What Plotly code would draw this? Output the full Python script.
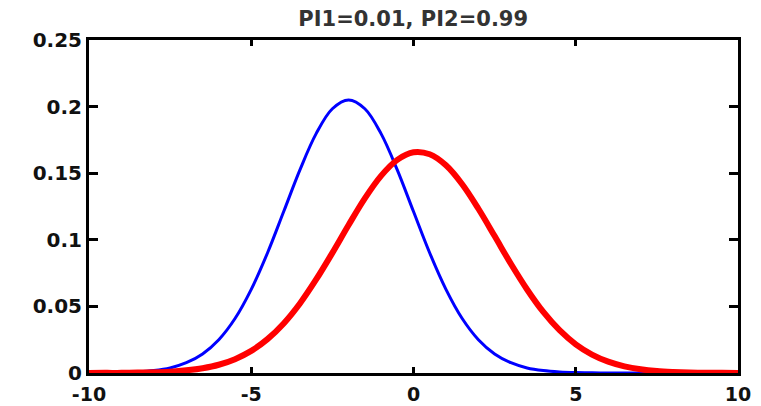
import plotly.graph_objects as go

# Sample grid shared by both densities
x_vals = [-10.0, -9.5, -9.0, -8.5, -8.0, -7.5, -7.0, -6.5, -6.0, -5.5,
          -5.0, -4.5, -4.0, -3.5, -3.0, -2.5, -2.0, -1.5, -1.0, -0.5,
          0.0, 0.5, 1.0, 1.5, 2.0, 2.5, 3.0, 3.5, 4.0, 4.5,
          5.0, 5.5, 6.0, 6.5, 7.0, 7.5, 8.0, 8.5, 9.0, 9.5, 10.0]

# Component 1 density (blue, thin)
blue_vals = [0.0000, 0.0001, 0.0003, 0.0008, 0.0018, 0.0038, 0.0077, 0.0143, 0.0250, 0.0409,
             0.0628, 0.0901, 0.1212, 0.1525, 0.1797, 0.1984, 0.2050, 0.1984, 0.1797, 0.1525,
             0.1212, 0.0901, 0.0628, 0.0409, 0.0250, 0.0143, 0.0077, 0.0038, 0.0018, 0.0008,
             0.0003, 0.0001, 0.0000, 0.0000, 0.0000, 0.0000, 0.0000, 0.0000, 0.0000, 0.0000, 0.0000]

# Component 2 density (red, thick)
red_vals = [0.0000, 0.0001, 0.0001, 0.0003, 0.0005, 0.0010, 0.0020, 0.0036, 0.0062, 0.0104,
            0.0166, 0.0254, 0.0372, 0.0522, 0.0702, 0.0902, 0.1111, 0.1311, 0.1480, 0.1600,
            0.1657, 0.1642, 0.1559, 0.1417, 0.1233, 0.1028, 0.0820, 0.0627, 0.0458, 0.0321,
            0.0215, 0.0138, 0.0085, 0.0050, 0.0028, 0.0015, 0.0008, 0.0004, 0.0002, 0.0001, 0.0000]

x_ticks = [-10, -5, 0, 5, 10]
x_tick_text = ["-10", "-5", "0", "5", "10"]
y_ticks = [0, 0.05, 0.1, 0.15, 0.2, 0.25]
y_tick_text = ["0", "0.05", "0.1", "0.15", "0.2", "0.25"]
title_text = "PI1=0.01, PI2=0.99"

FONT = "DejaVu Sans"
y_tick_font = dict(family=FONT, size=20, color="#111", weight="bold")
x_tick_font = dict(family=FONT, size=19, color="#111", weight="bold")

fig = go.Figure()
fig.add_trace(go.Scatter(x=x_vals, y=blue_vals, mode="lines",
                         line=dict(color="#0000ff", width=3, shape="spline"),
                         showlegend=False, hoverinfo="skip"))
fig.add_trace(go.Scatter(x=x_vals, y=red_vals, mode="lines",
                         line=dict(color="#ff0000", width=6, shape="spline"),
                         showlegend=False, hoverinfo="skip"))

fig.update_layout(
    width=761, height=406,
    margin=dict(l=89, r=23, t=40, b=33),
    paper_bgcolor="white", plot_bgcolor="white",
    title=dict(text=title_text, x=0.543, xanchor="center",
               y=1 - 19 / 406, yanchor="middle", yref="container",
               font=dict(family=FONT, size=21, color="#333", weight="bold")),
    font=dict(family=FONT, size=20, color="#111"),
)
fig.update_xaxes(range=[-10, 10], tickvals=x_ticks, ticktext=x_tick_text,
                 ticks="inside", ticklen=6, ticklabelstandoff=2, automargin=False,
                 tickwidth=3, tickcolor="black", showline=True, linewidth=3,
                 linecolor="black", mirror="ticks", showgrid=False, zeroline=False,
                 tickfont=x_tick_font)
fig.update_yaxes(range=[0, 0.25], tickvals=y_ticks, ticktext=y_tick_text,
                 ticks="inside", ticklen=9, tickwidth=3, tickcolor="black", automargin=False,
                 showline=True, linewidth=3, linecolor="black", mirror="ticks",
                 showgrid=False, zeroline=False,
                 tickfont=y_tick_font)

fig.write_html("out.html")
